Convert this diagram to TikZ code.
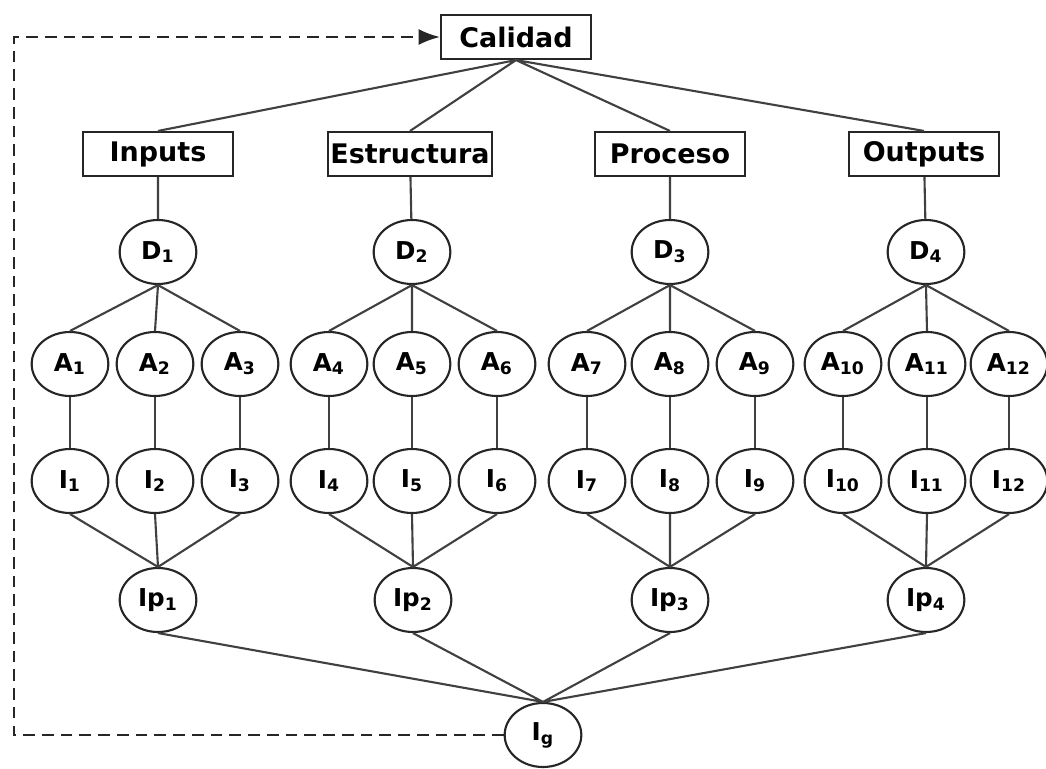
\documentclass[tikz,border=0pt]{standalone}
\usepackage{fontspec}
\setmainfont{DejaVu Sans}
\usetikzlibrary{arrows.meta, positioning, shapes.geometric}

\tikzset{
    box/.style={draw=black!85, line width=0.9pt, rectangle, minimum width=2.25cm, minimum height=0.66cm, inner sep=1pt, font=\bfseries\fontsize{11.5}{13}\selectfont},
    circ/.style={draw=black!85, line width=0.9pt, ellipse, minimum width=1.15cm, minimum height=0.96cm, inner sep=0pt, font=\bfseries\fontsize{10.5}{12}\selectfont},
    link/.style={draw=black!75, line width=0.9pt},
    back/.style={draw=black!85, line width=0.9pt, dash pattern=on 5pt off 3pt, -{Latex[length=3.2mm, width=2.4mm]}},
}

\begin{document}
\begin{tikzpicture}[x=0.015cm, y=-0.015cm]
    \useasboundingbox (0,0) rectangle (1046,768);

    % top and second level
    \node[box] (cal) at (516,37) {Calidad};
    \node[box] (inp) at (158,154) {Inputs};
    \node[box] (est) at (410,154) {Estructura};
    \node[box] (pro) at (670,154) {Proceso};
    \node[box] (out) at (924,154) {Outputs};

    % dimensions
    \node[circ] (d1) at (158,252) {D\textsubscript{1}};
    \node[circ] (d2) at (412,252) {D\textsubscript{2}};
    \node[circ] (d3) at (670,252) {D\textsubscript{3}};
    \node[circ] (d4) at (926,252) {D\textsubscript{4}};

    % attributes
    \node[circ] (a1) at (70,364) {A\textsubscript{1}};
    \node[circ] (a2) at (155,364) {A\textsubscript{2}};
    \node[circ] (a3) at (240,364) {A\textsubscript{3}};
    \node[circ] (a4) at (329,364) {A\textsubscript{4}};
    \node[circ] (a5) at (412,364) {A\textsubscript{5}};
    \node[circ] (a6) at (497,364) {A\textsubscript{6}};
    \node[circ] (a7) at (587,364) {A\textsubscript{7}};
    \node[circ] (a8) at (670,364) {A\textsubscript{8}};
    \node[circ] (a9) at (755,364) {A\textsubscript{9}};
    \node[circ] (a10) at (843,364) {A\textsubscript{10}};
    \node[circ] (a11) at (927,364) {A\textsubscript{11}};
    \node[circ] (a12) at (1009,364) {A\textsubscript{12}};

    % indicators
    \node[circ] (i1) at (70,481) {I\textsubscript{1}};
    \node[circ] (i2) at (155,481) {I\textsubscript{2}};
    \node[circ] (i3) at (240,481) {I\textsubscript{3}};
    \node[circ] (i4) at (329,481) {I\textsubscript{4}};
    \node[circ] (i5) at (412,481) {I\textsubscript{5}};
    \node[circ] (i6) at (497,481) {I\textsubscript{6}};
    \node[circ] (i7) at (587,481) {I\textsubscript{7}};
    \node[circ] (i8) at (670,481) {I\textsubscript{8}};
    \node[circ] (i9) at (755,481) {I\textsubscript{9}};
    \node[circ] (i10) at (843,481) {I\textsubscript{10}};
    \node[circ] (i11) at (927,481) {I\textsubscript{11}};
    \node[circ] (i12) at (1009,481) {I\textsubscript{12}};

    % partial and global indices
    \node[circ] (ip1) at (158,600) {Ip\textsubscript{1}};
    \node[circ] (ip2) at (413,600) {Ip\textsubscript{2}};
    \node[circ] (ip3) at (670,600) {Ip\textsubscript{3}};
    \node[circ] (ip4) at (926,600) {Ip\textsubscript{4}};
    \node[circ] (ig) at (543,735) {I\textsubscript{g}};
    \coordinate (corner) at (14,735);

    \draw[link] (cal.south) -- (inp.north) (cal.south) -- (est.north) (cal.south) -- (pro.north) (cal.south) -- (out.north);
    \draw[link] (inp) -- (d1) (est) -- (d2) (pro) -- (d3) (out) -- (d4);

    \draw[link] (d1.south) -- (a1.north) (d1.south) -- (a2.north) (d1.south) -- (a3.north);
    \draw[link] (d2.south) -- (a4.north) (d2.south) -- (a5.north) (d2.south) -- (a6.north);
    \draw[link] (d3.south) -- (a7.north) (d3.south) -- (a8.north) (d3.south) -- (a9.north);
    \draw[link] (d4.south) -- (a10.north) (d4.south) -- (a11.north) (d4.south) -- (a12.north);

    \draw[link] (a1) -- (i1) (a2) -- (i2) (a3) -- (i3) (a4) -- (i4) (a5) -- (i5) (a6) -- (i6);
    \draw[link] (a7) -- (i7) (a8) -- (i8) (a9) -- (i9) (a10) -- (i10) (a11) -- (i11) (a12) -- (i12);

    \draw[link] (i1.south) -- (ip1.north) (i2.south) -- (ip1.north) (i3.south) -- (ip1.north);
    \draw[link] (i4.south) -- (ip2.north) (i5.south) -- (ip2.north) (i6.south) -- (ip2.north);
    \draw[link] (i7.south) -- (ip3.north) (i8.south) -- (ip3.north) (i9.south) -- (ip3.north);
    \draw[link] (i10.south) -- (ip4.north) (i11.south) -- (ip4.north) (i12.south) -- (ip4.north);

    \draw[link] (ip1.south) -- (ig.north) (ip2.south) -- (ig.north) (ip3.south) -- (ig.north) (ip4.south) -- (ig.north);

    % feedback loop
    \draw[back] (ig.west) -- (corner) |- (cal.west);
\end{tikzpicture}
\end{document}
